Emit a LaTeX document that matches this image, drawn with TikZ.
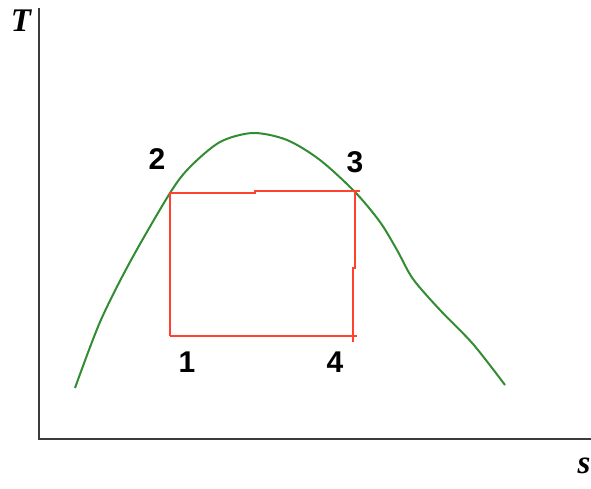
\documentclass[tikz,border=0pt]{standalone}
\usepackage{fontspec}
\setmainfont{Liberation Sans}
\newfontfamily\serifaxis{Liberation Serif}
\usepackage{xcolor}
\definecolor{axisgray}{RGB}{60,60,60}
\definecolor{domegreen}{RGB}{50,140,50}
\definecolor{carnotred}{RGB}{255,65,45}

\begin{document}
\begin{tikzpicture}[
  x=1pt, y=-1pt,
  axis/.style={draw=axisgray, line width=2.2pt},
  dome/.style={draw=domegreen, line width=2pt},
  carnot/.style={draw=carnotred, line width=1.8pt},
  num/.style={font=\fontsize{30}{32}\selectfont\bfseries, inner sep=0pt},
  axlbl/.style={font=\fontsize{33}{35}\selectfont\serifaxis\bfseries\itshape, inner sep=0pt}
]
\useasboundingbox (0,0) rectangle (591,489);
% axes
\coordinate (o) at (39,439);
\coordinate (ytop) at (39,8);
\coordinate (xend) at (591,439);
\draw[axis] (ytop) -- (o) -- (xend);
\node[axlbl] (tlbl) at (21,21) {T};
\node[axlbl] (slbl) at (584,466) {s};
% saturation dome
\draw[dome] plot[smooth, tension=0.5] coordinates {
  (75,388) (100,322) (130,262) (170,193) (190,167) (220,142) (253,133)
  (287,140) (320,160) (355,192) (380,222) (397,250) (413,279) (440,310)
  (473,344) (505,385)};
% cycle
\coordinate (c1) at (170,336);
\coordinate (c2) at (170,193);
\coordinate (c3) at (355,191);
\coordinate (c4) at (353,336);
\draw[carnot] (c1) -- (c2) -- (255,193) -- (255,191) -- (360,191);
\draw[carnot] (c3) -- (355,268) -- (353,268) -- (353,342);
\draw[carnot] (c1) -- (357,336);
% state points
\node[num] (n2) at (157,159) {2};
\node[num] (n3) at (355,162) {3};
\node[num] (n1) at (187,362) {1};
\node[num] (n4) at (335,362) {4};
\end{tikzpicture}
\end{document}
